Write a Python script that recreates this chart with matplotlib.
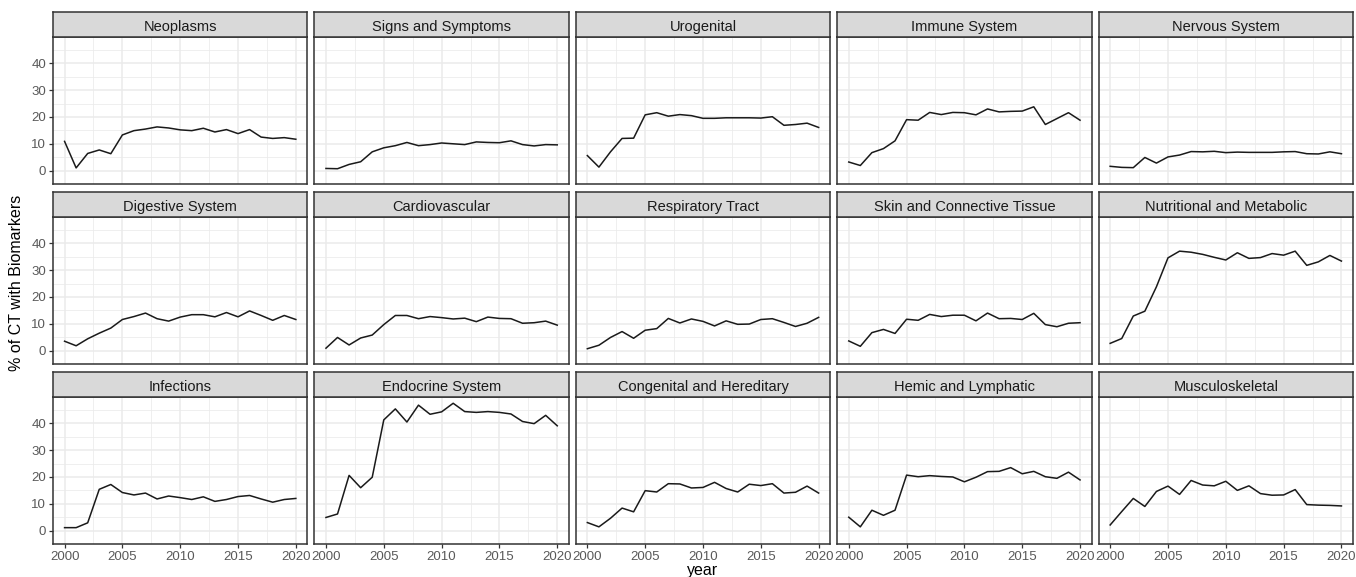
import numpy as np
import matplotlib.pyplot as plt

plt.rcParams['font.family'] = ['Liberation Sans', 'DejaVu Sans']

years = list(range(2000, 2021))

categories = ["Neoplasms", "Signs and Symptoms", "Urogenital", "Immune System", "Nervous System",
              "Digestive System", "Cardiovascular", "Respiratory Tract", "Skin and Connective Tissue",
              "Nutritional and Metabolic", "Infections", "Endocrine System", "Congenital and Hereditary",
              "Hemic and Lymphatic", "Musculoskeletal"]

neoplasms = [10.9, 1.0, 6.4, 7.7, 6.3, 13.3, 14.9, 15.5, 16.3, 15.9, 15.2, 14.9, 15.8, 14.4, 15.3, 13.8, 15.3, 12.5, 12.0, 12.3, 11.7]
signs = [0.8, 0.7, 2.3, 3.3, 7.0, 8.5, 9.3, 10.5, 9.3, 9.7, 10.3, 10.0, 9.7, 10.7, 10.5, 10.4, 11.1, 9.7, 9.2, 9.7, 9.6]
urogenital = [5.6, 1.3, 7.0, 12.0, 12.1, 20.8, 21.6, 20.3, 20.9, 20.5, 19.5, 19.5, 19.7, 19.7, 19.7, 19.6, 20.1, 16.9, 17.2, 17.7, 16.1]
immune = [3.2, 1.9, 6.7, 8.2, 11.1, 19.0, 18.8, 21.7, 20.9, 21.7, 21.6, 20.8, 23.0, 21.9, 22.1, 22.2, 23.8, 17.2, 19.4, 21.6, 18.8]
nervous = [1.6, 1.2, 1.1, 4.9, 2.8, 5.1, 5.8, 7.1, 7.0, 7.2, 6.7, 6.9, 6.8, 6.8, 6.8, 7.0, 7.1, 6.3, 6.2, 7.0, 6.3]
digestive = [3.5, 1.8, 4.4, 6.5, 8.4, 11.6, 12.7, 14.0, 11.9, 11.0, 12.5, 13.4, 13.4, 12.6, 14.2, 12.6, 14.8, 13.1, 11.3, 13.1, 11.6]
cardiovascular = [0.9, 4.9, 2.1, 4.7, 5.8, 9.7, 13.1, 13.1, 11.9, 12.7, 12.3, 11.8, 12.1, 10.8, 12.5, 12.0, 11.9, 10.2, 10.4, 11.0, 9.5]
respiratory = [0.7, 2.0, 4.9, 7.1, 4.6, 7.6, 8.2, 12.0, 10.3, 11.8, 10.9, 9.2, 11.1, 9.8, 9.9, 11.6, 11.9, 10.5, 9.0, 10.2, 12.4]
skin = [3.6, 1.6, 6.7, 7.9, 6.4, 11.7, 11.3, 13.5, 12.7, 13.2, 13.2, 11.1, 14.0, 11.9, 12.0, 11.6, 13.9, 9.7, 8.9, 10.2, 10.4]
nutritional = [2.7, 4.5, 12.9, 14.7, 23.8, 34.6, 37.1, 36.7, 35.9, 34.8, 33.8, 36.5, 34.4, 34.7, 36.2, 35.6, 37.1, 31.8, 33.1, 35.5, 33.4]
infections = [1.1, 1.1, 2.9, 15.4, 17.2, 14.2, 13.3, 14.0, 11.8, 12.9, 12.3, 11.6, 12.6, 10.9, 11.6, 12.7, 13.1, 11.8, 10.6, 11.6, 12.0]
endocrine = [4.9, 6.2, 20.6, 16.0, 19.9, 41.3, 45.4, 40.5, 46.8, 43.4, 44.3, 47.5, 44.4, 44.1, 44.4, 44.1, 43.5, 40.7, 39.9, 43.0, 39.1]
congenital = [3.0, 1.4, 4.6, 8.4, 7.0, 14.9, 14.4, 17.5, 17.4, 15.9, 16.1, 18.0, 15.7, 14.4, 17.3, 16.8, 17.5, 14.0, 14.3, 16.6, 14.0]
hemic = [5.0, 1.4, 7.6, 5.7, 7.6, 20.7, 20.1, 20.5, 20.2, 20.0, 18.2, 19.9, 22.0, 22.1, 23.5, 21.2, 22.1, 20.1, 19.5, 21.8, 18.9]
musculoskeletal = [2.1, 7.1, 12.0, 9.0, 14.6, 16.6, 13.5, 18.7, 17.0, 16.7, 18.4, 15.0, 16.7, 13.8, 13.2, 13.3, 15.3, 9.7, 9.5, 9.4, 9.2]

series = [neoplasms, signs, urogenital, immune, nervous,
          digestive, cardiovascular, respiratory, skin, nutritional,
          infections, endocrine, congenital, hemic, musculoskeletal]

W, H = 1356, 577
fig = plt.figure(figsize=(W / 100, H / 100), dpi=100)

# shared scales with ggplot-style 5% expansion
allv = np.concatenate([np.array(s) for s in series])
ypad = 0.05 * (allv.max() - allv.min())
ylim = (allv.min() - ypad, allv.max() + ypad)
xlim = (years[0] - 1, years[-1] + 1)

left, right, gap = 53, 1353, 7
pw = (right - left - 4 * gap) / 5
strip_h, ph, row_step, top0 = 25, 147, 180, 12

for i, (name, vals) in enumerate(zip(categories, series)):
    r, c = divmod(i, 5)
    x0 = left + c * (pw + gap)
    ytop = top0 + r * row_step
    ax = fig.add_axes([x0 / W, 1 - (ytop + strip_h + ph) / H, pw / W, ph / H])
    ax.set_facecolor('white')
    ax.plot(years, vals, color='#1a1a1a', lw=1.1, zorder=3)
    ax.set_xlim(*xlim)
    ax.set_ylim(*ylim)
    ax.set_xticks([2000, 2005, 2010, 2015, 2020])
    ax.set_xticks([2002.5, 2007.5, 2012.5, 2017.5], minor=True)
    ax.set_yticks([0, 10, 20, 30, 40])
    ax.set_yticks([-5, 5, 15, 25, 35, 45], minor=True)
    ax.grid(which='major', color='#ebebeb', lw=1.1)
    ax.grid(which='minor', color='#ebebeb', lw=0.55)
    ax.set_axisbelow(True)
    for sp in ax.spines.values():
        sp.set_color('#333333')
        sp.set_linewidth(1.1)
    ax.tick_params(which='minor', length=0)
    ax.tick_params(which='major', length=3, width=0.9, color='#333333',
                   labelcolor='#595959', labelsize=9.5, pad=2)
    if c != 0:
        ax.tick_params(axis='y', length=0, labelleft=False)
    if r != 2:
        ax.tick_params(axis='x', length=0, labelbottom=False)

    # facet strip
    sax = fig.add_axes([x0 / W, 1 - (ytop + strip_h) / H, pw / W, strip_h / H])
    sax.set_facecolor('#d9d9d9')
    sax.set_xticks([])
    sax.set_yticks([])
    for sp in sax.spines.values():
        sp.set_color('#333333')
        sp.set_linewidth(1.1)
    sax.text(0.5, 0.47, name, ha='center', va='center_baseline', fontsize=10.5,
             color='#1a1a1a', transform=sax.transAxes)

fig.text((left + right) / 2 / W, 1 - 571 / H, 'year', ha='center', va='center', fontsize=11.5)
fig.text(17 / W, 1 - 283 / H, '% of CT with Biomarkers', ha='center', va='center',
         rotation=90, fontsize=11.5)

fig.savefig('out.png', dpi=100, facecolor='white')
